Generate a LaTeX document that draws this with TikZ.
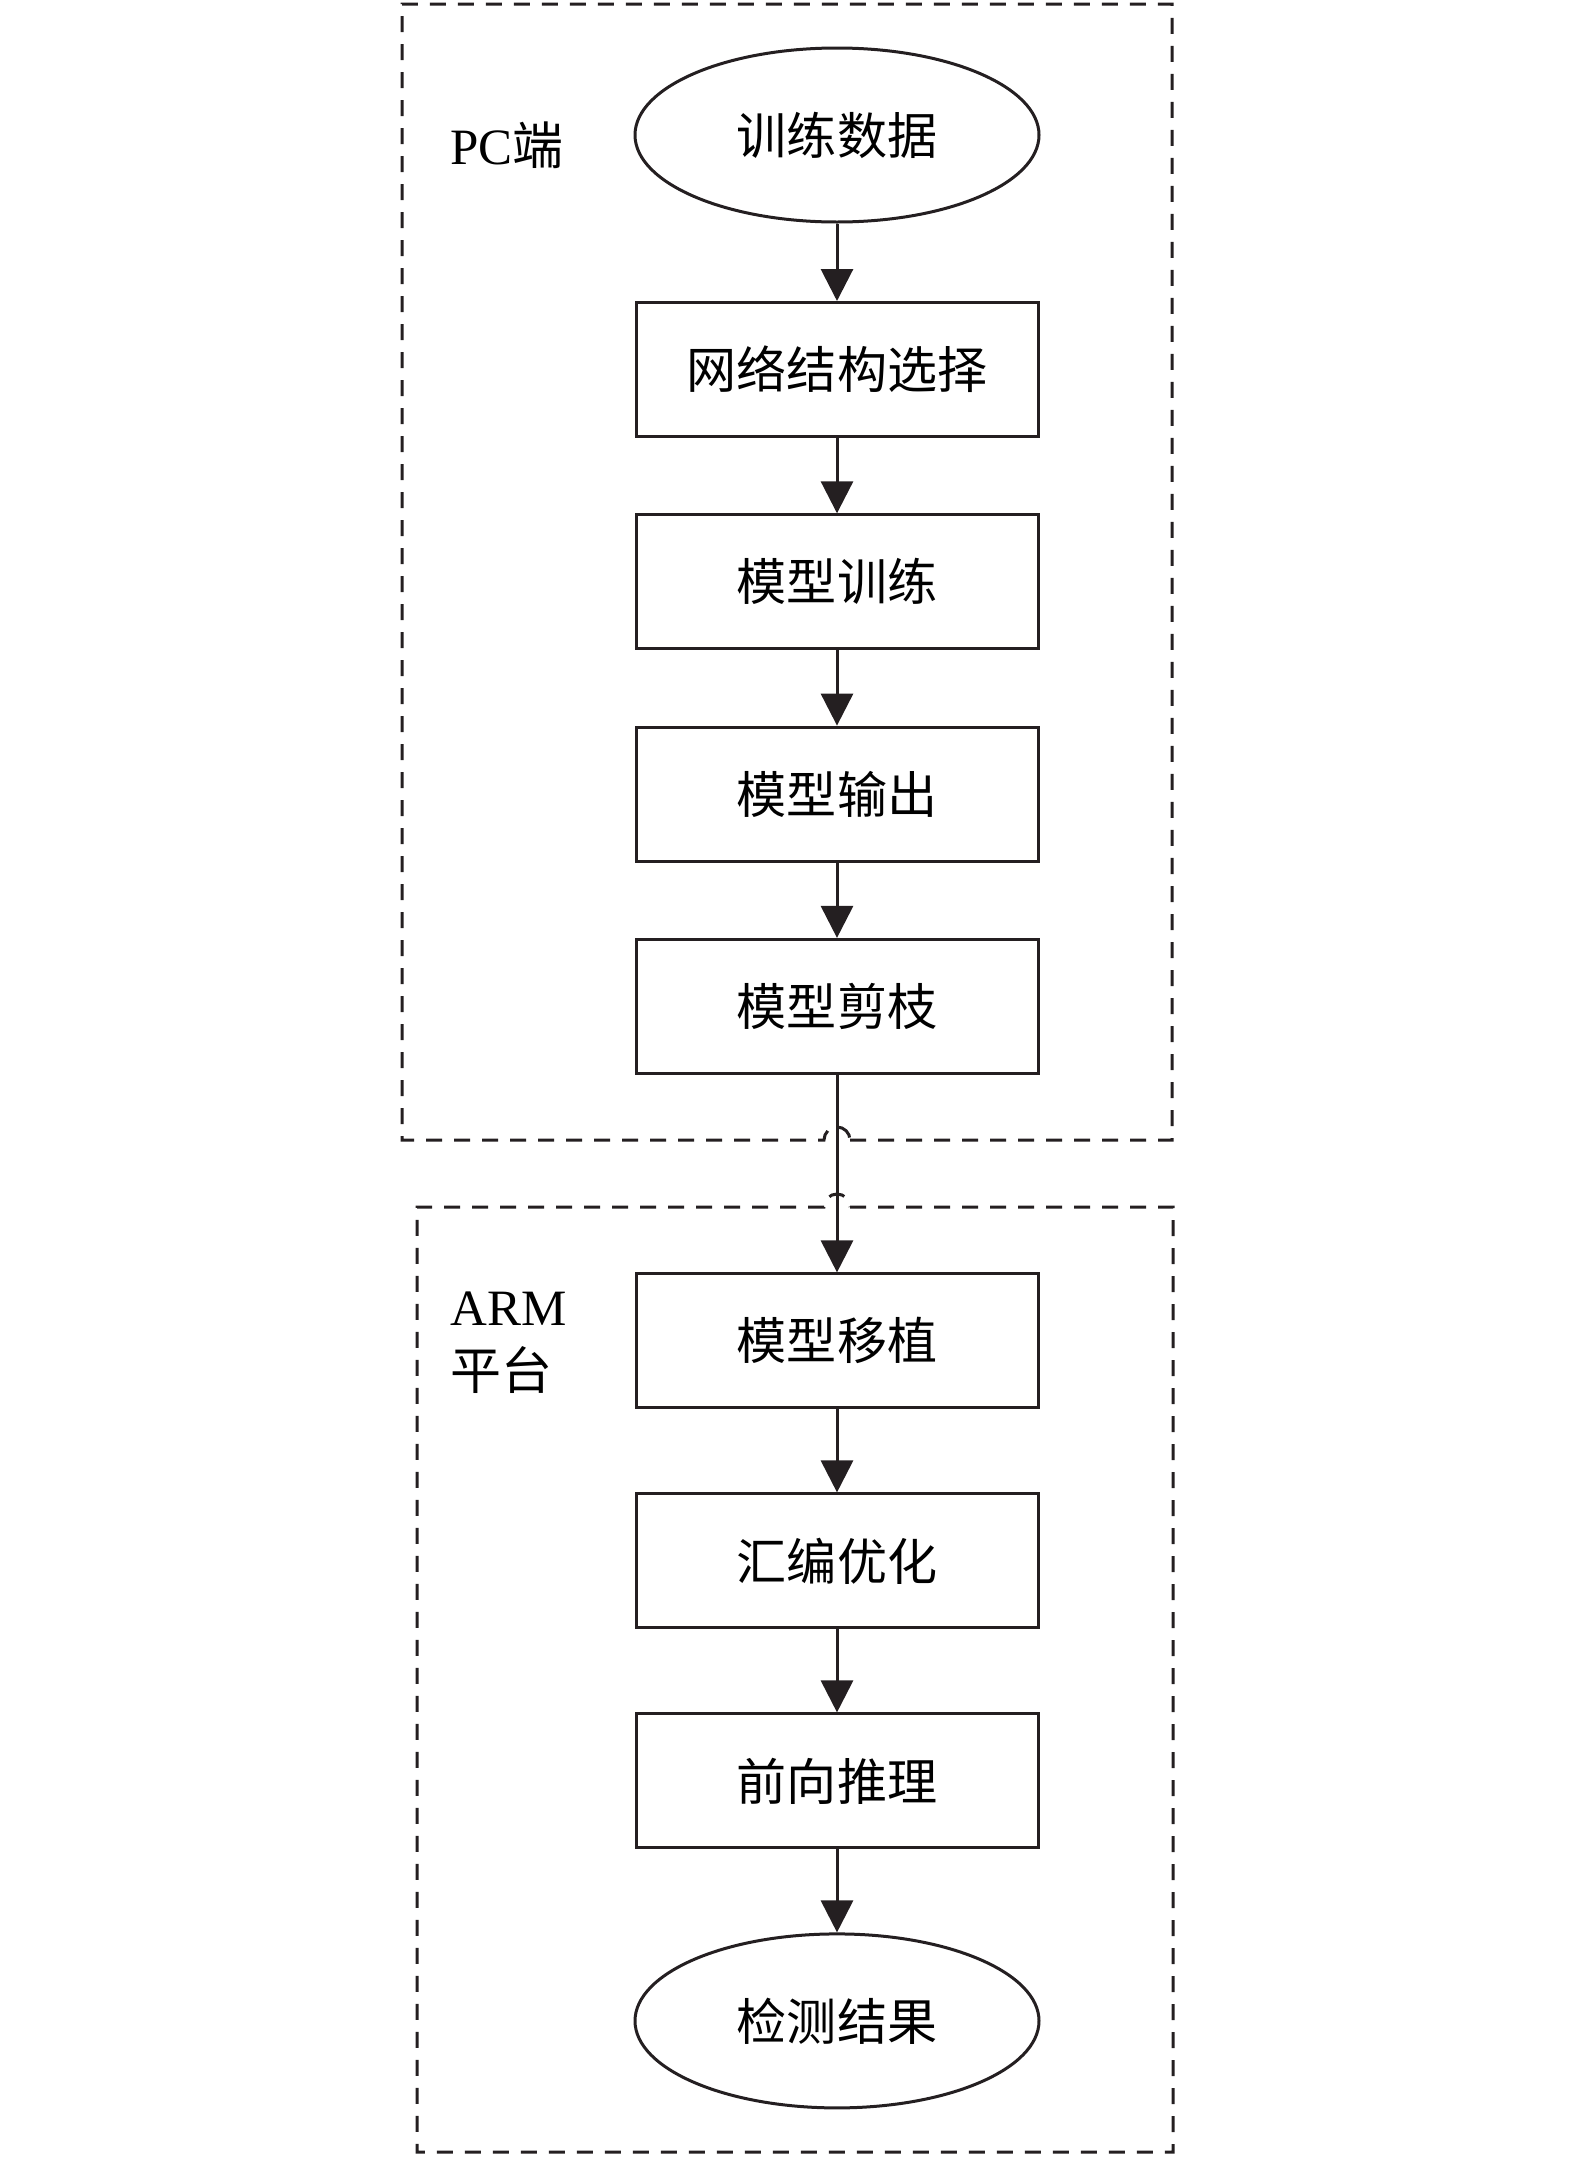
\documentclass[tikz,border=0pt]{standalone}
\usepackage{fontspec}
\setmainfont{Liberation Serif}
\newfontfamily\cjk{Noto Sans CJK SC}
\usepackage{tikz}
\usetikzlibrary{arrows.meta,shapes.geometric,positioning}
\definecolor{cline}{rgb}{0.14,0.12,0.13}

\begin{document}
\begin{tikzpicture}[-,>={Triangle[width=0.64cm,length=0.64cm]},line width=0.06cm,
  draw=cline,node distance=4.246cm,
  proc node/.style={rectangle,draw,minimum width=8.04cm,minimum height=2.68cm,
    inner sep=0pt,font=\cjk\fontsize{28.5}{34}\selectfont},
  term node/.style={ellipse,draw,minimum width=8.08cm,minimum height=3.48cm,
    inner sep=0pt,font=\cjk\fontsize{28.5}{34}\selectfont},
  zone/.style={draw=cline,dash pattern=on 0.32cm off 0.24cm,line width=0.06cm},
  zone label/.style={inner sep=0pt,align=left,font=\fontsize{29}{36.8}\selectfont}]
  \useasboundingbox (0,0) rectangle (31.5,-43.18);

  % PC side
  \draw[zone] (17.0,-22.8) -- (23.44,-22.8) -- (23.44,-0.08) -- (8.04,-0.08)
    -- (8.04,-22.8) -- (16.48,-22.8) arc[start angle=180,end angle=0,radius=0.26];
  \node[zone label,anchor=west] (pc) at (8.98,-2.9) {PC{\cjk 端}};

  % ARM side
  \draw[zone] (17.0,-24.14) -- (23.46,-24.14) -- (23.46,-43.04) -- (8.34,-43.04)
    -- (8.34,-24.14) -- (16.48,-24.14) arc[start angle=180,end angle=0,radius=0.26];
  \node[zone label,anchor=north west] (arm) at (8.98,-25.8) {ARM\\{\cjk 平台}};

  \node[term node] (data) at (16.74,-2.70) {训练数据};
  \node[proc node] (net) [below of=data,node distance=4.69cm] {网络结构选择};
  \node[proc node] (train) [below of=net] {模型训练};
  \node[proc node] (out) [below of=train] {模型输出};
  \node[proc node] (prune) [below of=out] {模型剪枝};
  \node[proc node] (port) [below of=prune,node distance=6.69cm] {模型移植};
  \node[proc node] (asm) [below of=port,node distance=4.4cm] {汇编优化};
  \node[proc node] (infer) [below of=asm,node distance=4.4cm] {前向推理};
  \node[term node] (result) [below of=infer,node distance=4.8cm] {检测结果};

  \path[->]
    (data) edge (net)
    (net) edge (train)
    (train) edge (out)
    (out) edge (prune)
    (prune) edge (port)
    (port) edge (asm)
    (asm) edge (infer)
    (infer) edge (result);
\end{tikzpicture}
\end{document}
